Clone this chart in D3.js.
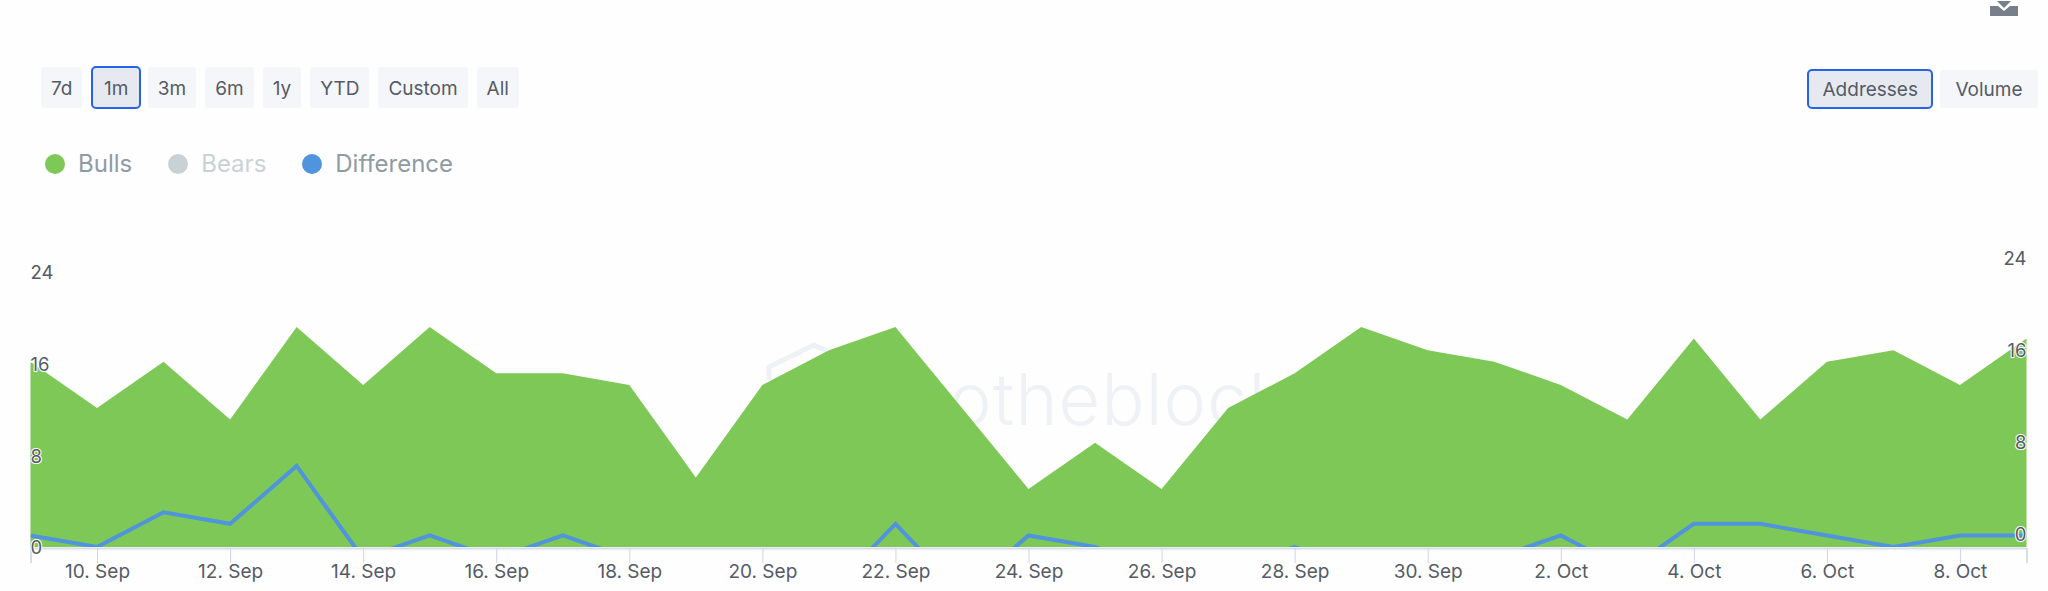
<!DOCTYPE html>
<html>
<head>
<meta charset="utf-8">
<script src="https://cdn.jsdelivr.net/npm/d3@7"></script>
<style>
  html, body { margin: 0; padding: 0; background: #fefefe; overflow: hidden; }
  body { width: 2048px; height: 591px; position: relative; font-family: Inter, sans-serif; }
  svg { position: absolute; left: 0; top: 0; }
  .btns { position: absolute; display: flex; align-items: center; gap: 9px; }
  .btn { box-sizing: border-box; height: 41px; line-height: 44px; padding: 0 10px; background: #f4f6f9;
         color: #555b66; font-size: 19px; border-radius: 3px; }
  .btn.on { height: 43px; line-height: 42px; padding: 0 10.5px; margin-right: -2px; background: #e6eaf0; border: 2px solid #2563eb; border-radius: 5px; }
  .mode .btn { height: 38px; line-height: 40px; padding: 0 15px; }
  .mode .btn.on { height: 40px; line-height: 38px; padding: 0 13.5px; margin-right: 0; }
  .legend { position: absolute; left: 45px; top: 147px; display: flex; gap: 36px; font-size: 24px; line-height: 34px; }
  .legend div { display: flex; align-items: center; gap: 13px; }
  .legend i { display: block; width: 20px; height: 20px; border-radius: 50%; }
</style>
</head>
<body>
<script>
const dates = [
  "2023-09-09", "2023-09-10", "2023-09-11", "2023-09-12", "2023-09-13", "2023-09-14", "2023-09-15", "2023-09-16",
  "2023-09-17", "2023-09-18", "2023-09-19", "2023-09-20", "2023-09-21", "2023-09-22", "2023-09-23", "2023-09-24",
  "2023-09-25", "2023-09-26", "2023-09-27", "2023-09-28", "2023-09-29", "2023-09-30", "2023-10-01", "2023-10-02",
  "2023-10-03", "2023-10-04", "2023-10-05", "2023-10-06", "2023-10-07", "2023-10-08", "2023-10-09"
];
const bulls = [16, 12, 16, 11, 19, 14, 19, 15, 15, 14, 6, 14, 17, 19, 12, 5, 9, 5, 12, 15, 19, 17, 16, 14, 11, 18, 11, 16, 17, 14, 18];
// negative days are cut off by the baseline, those values are estimates
const difference = [1, 0, 3, 2, 7, -1, 1, -1, 1, -1, -3, -4, -4, 2, -4, 1, 0, -2, -2, 0, -2, -2, -1, 1, -2, 2, 2, 1, 0, 1, 1];
const tickDates = [
  "2023-09-10", "2023-09-12", "2023-09-14", "2023-09-16", "2023-09-18", "2023-09-20", "2023-09-22", "2023-09-24",
  "2023-09-26", "2023-09-28", "2023-09-30", "2023-10-02", "2023-10-04", "2023-10-06", "2023-10-08"
];
const yTicks = [0, 8, 16, 24];
const rangeLabels = ["7d", "1m", "3m", "6m", "1y", "YTD", "Custom", "All"];
const modeLabels = ["Addresses", "Volume"];
const legendLabels = ["Bulls", "Bears", "Difference"];
const legendColors = ["#7ec857", "#c8d2d5", "#4f94dc"];
const legendText = ["#8f9aa3", "#c9d3d6", "#8f9aa3"];

const width = 2048, height = 591;
const left = 30.5, right = 2026.5, base = 547;
const parse = d3.utcParse("%Y-%m-%d");

const x = d3.scaleUtc().domain([parse(dates[0]), parse(dates[dates.length - 1])]).range([left, right]);
const y = d3.scaleLinear().domain([0, 24]).range([base, base - 24 * 11.58]);
// the axis labels do not sit quite on the plot scale
const yLeft = d3.scaleLinear().domain([0, 24]).range([548, 273]);
const yRight = d3.scaleLinear().domain([0, 24]).range([535, 259]);

const svg = d3.select("body").append("svg").attr("width", width).attr("height", height);

svg.append("clipPath").attr("id", "plot").append("rect")
  .attr("x", left).attr("y", 200).attr("width", right - left).attr("height", base - 200);

// watermark behind the area
const mark = svg.append("g").attr("fill", "none").attr("stroke", "#eef1f6").attr("stroke-width", 5);
mark.append("path").attr("d", "M769 380V367L814 345L827 351");
svg.append("text").attr("x", 866).attr("y", 425)
  .attr("font-family", "Inter, sans-serif").attr("font-size", 72).attr("font-weight", 300)
  .attr("letter-spacing", 1)
  .attr("fill", "#eef1f6").text("intotheblock");

const area = d3.area()
  .x((d, i) => x(parse(dates[i])))
  .y0(y(0))
  .y1(d => y(d));
svg.append("path").datum(bulls).attr("fill", legendColors[0]).attr("d", area);

const line = d3.line()
  .x((d, i) => x(parse(dates[i])))
  .y(d => y(d));
svg.append("path").datum(difference)
  .attr("clip-path", "url(#plot)")
  .attr("fill", "none")
  .attr("stroke", legendColors[2])
  .attr("stroke-width", 4)
  .attr("d", line);

// x axis
const xAxis = svg.append("g").attr("transform", `translate(0,${base + 1})`)
  .call(d3.axisBottom(x)
    .tickValues(tickDates.map(parse))
    .tickFormat(d3.utcFormat("%-d. %b"))
    .tickSize(15)
    .tickPadding(2));
xAxis.select(".domain").attr("stroke", "#d8dee6").attr("stroke-width", 2);
xAxis.selectAll(".tick line").attr("stroke", "#ccd6eb");
xAxis.selectAll("text").attr("font-family", "Inter, sans-serif").attr("font-size", 19).attr("fill", "#555b66");

// y axes, labels get a white halo where they lie on the green
function styleY(g) {
  g.select(".domain").remove();
  g.selectAll(".tick line").remove();
  g.selectAll("text")
    .attr("font-family", "Inter, sans-serif")
    .attr("font-size", 18.5)
    .attr("fill", "#555b66")
    .attr("stroke", "#fff")
    .attr("stroke-width", 2)
    .attr("paint-order", "stroke");
}
svg.append("g").attr("transform", `translate(${left},0)`)
  .call(d3.axisRight(yLeft).tickValues(yTicks).tickSize(0).tickPadding(0))
  .call(styleY);
svg.append("g").attr("transform", `translate(${right},0)`)
  .call(d3.axisLeft(yRight).tickValues(yTicks).tickSize(0).tickPadding(0))
  .call(styleY);

// download icon
const icon = svg.append("g").attr("fill", "#777f8a");
icon.append("path").attr("d", "M1997 1H2011L2004 8Z");
icon.append("path").attr("d", "M1990 6H1998L2004 11L2010 6H2018V16H1990Z");

// buttons and legend
d3.select("body").append("div").attr("class", "btns")
  .style("left", "41px").style("top", "66px").style("height", "43px")
  .selectAll("div").data(rangeLabels).enter().append("div")
  .attr("class", d => d === "1m" ? "btn on" : "btn")
  .text(d => d);

d3.select("body").append("div").attr("class", "btns mode")
  .style("left", "1807px").style("top", "69px").style("height", "40px").style("gap", "7px")
  .selectAll("div").data(modeLabels).enter().append("div")
  .attr("class", d => d === "Addresses" ? "btn on" : "btn")
  .text(d => d);

const legend = d3.select("body").append("div").attr("class", "legend")
  .selectAll("div").data(legendLabels).enter().append("div")
  .style("color", (d, i) => legendText[i]);
legend.append("i").style("background", (d, i) => legendColors[i]);
legend.append("span").text(d => d);
</script>
</body>
</html>
